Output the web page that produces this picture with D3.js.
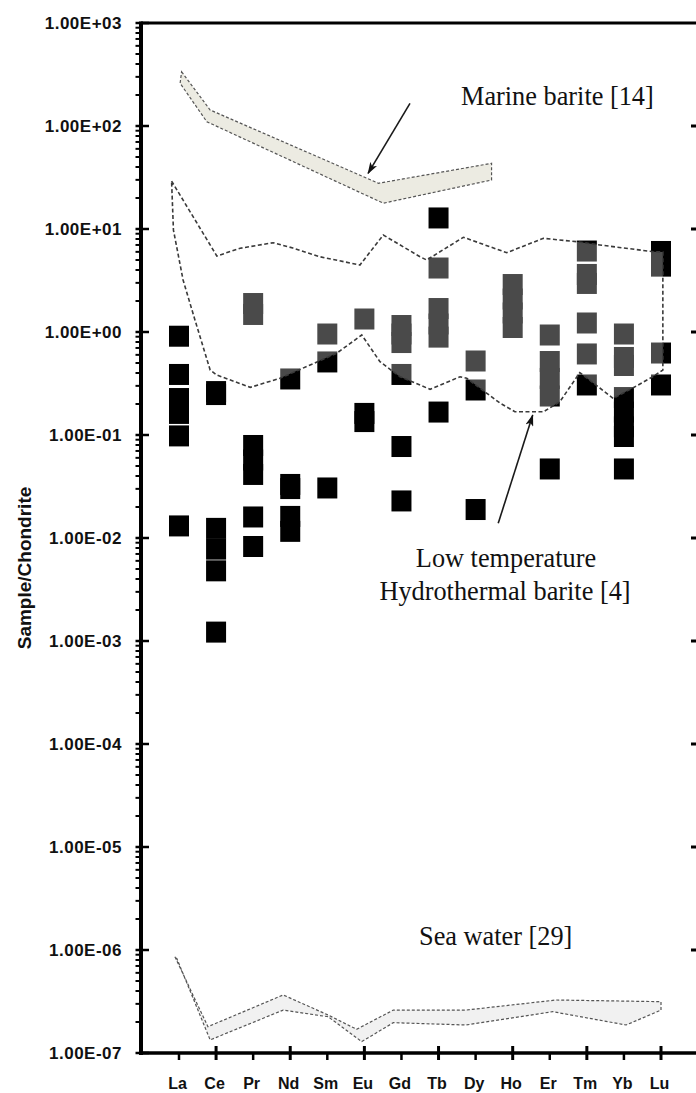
<!DOCTYPE html>
<html>
<head>
<meta charset="utf-8">
<script src="https://cdn.jsdelivr.net/npm/d3@7/dist/d3.min.js"></script>
<style>
  body { margin: 0; background: #fff; }
</style>
</head>
<body>
<div id="chart"></div>
<script>
// REE elements on the x axis
const elements = ["La", "Ce", "Pr", "Nd", "Sm", "Eu", "Gd", "Tb", "Dy", "Ho", "Er", "Tm", "Yb", "Lu"];

// sample/chondrite values, one list per element
const sampleValues = [
    [0.91, 0.387, 0.226, 0.162, 0.098, 0.0131],
    [0.264, 0.247, 0.0124, 0.0078, 0.0048, 0.00122],
    [1.89, 1.48, 0.0791, 0.0572, 0.0414, 0.016, 0.00827],
    [0.35, 0.0331, 0.0302, 0.0162, 0.0116],
    [0.956, 0.512, 0.0306],
    [1.337, 0.162, 0.135],
    [1.156, 0.956, 0.79, 0.387, 0.0773, 0.0229],
    [12.8, 4.18, 1.69, 1.196, 0.892, 0.167],
    [0.523, 0.2735, 0.0189],
    [2.89, 2.09, 1.53, 1.106],
    [0.935, 0.517, 0.354, 0.239, 0.0468],
    [6.11, 3.62, 2.96, 1.223, 0.612, 0.306],
    [0.956, 0.566, 0.473, 0.231, 0.167, 0.12, 0.0967, 0.0468],
    [6.05, 4.36, 0.625, 0.306]
];

// fields: [element position, value]
const hydroTop = [[-0.2, 29.2], [1.02, 5.47], [1.65, 6.5], [2.54, 7.36], [3.07, 6.54], [3.8, 5.38], [4.88, 4.47],
    [5.51, 8.74], [6.5, 5.38], [6.68, 5.0], [7.67, 8.31], [8.84, 5.89], [9.83, 8.12], [10.73, 7.53], [11.35, 7.0],
    [12.79, 6.02], [13.05, 5.98]];
const hydroBottom = [[13.05, 0.428], [12.78, 0.368], [12.24, 0.286], [11.71, 0.227], [11.35, 0.286], [10.81, 0.403],
    [10.27, 0.21], [9.83, 0.168], [9.06, 0.168], [8.66, 0.204], [7.76, 0.355], [7.58, 0.368], [6.77, 0.278],
    [5.96, 0.368], [5.42, 0.515], [4.93, 0.935], [4.25, 0.621], [2.72, 0.355], [1.92, 0.29], [1.02, 0.382],
    [0.84, 0.428], [0.43, 1.31], [0.11, 3.2], [-0.15, 9.77]];

const marineTop = [[0.07, 336], [0.84, 143], [5.38, 27.8], [8.43, 43.4]];
const marineBottom = [[8.43, 29.9], [5.51, 17.8], [0.75, 110], [0.03, 260]];

const seaTop = [[-0.11, 8.6e-7], [0.78, 1.8e-7], [2.81, 3.66e-7], [4.02, 2.34e-7], [4.79, 1.7e-7], [5.78, 2.61e-7],
    [7.74, 2.61e-7], [10.17, 3.27e-7], [13.0, 3.15e-7]];
const seaBottom = [[13.0, 2.61e-7], [12.06, 1.87e-7], [10.08, 2.52e-7], [7.74, 1.87e-7], [5.78, 1.97e-7],
    [4.93, 1.29e-7], [4.02, 2.25e-7], [2.81, 2.61e-7], [0.84, 1.34e-7], [-0.06, 8.3e-7]];

// arrows: from -> to
const arrows = [
    [[6.23, 166], [5.1, 34.7]],
    [[8.61, 0.0139], [9.54, 0.156]]
];

const decades = [1e3, 1e2, 1e1, 1, 1e-1, 1e-2, 1e-3, 1e-4, 1e-5, 1e-6, 1e-7];

const width = 696;
const height = 1093;

const svg = d3.select("#chart").append("svg")
    .attr("width", width)
    .attr("height", height);

const x = d3.scaleLinear().domain([0, 13]).range([179, 661]);
const y = d3.scaleLog().domain([1e-7, 1e3]).range([1053, 23]);

const line = d3.line().x(d => x(d[0])).y(d => y(d[1]));
const closed = pts => line(pts) + "Z";

// marine barite and sea water bands
svg.append("path")
    .attr("d", closed(marineTop.concat(marineBottom)))
    .attr("fill", "#ecebe2")
    .attr("stroke", "#555")
    .attr("stroke-width", 1.2)
    .attr("stroke-dasharray", "3,2");

svg.append("path")
    .attr("d", closed(seaTop.concat(seaBottom)))
    .attr("fill", "#f1f1f1")
    .attr("stroke", "#555")
    .attr("stroke-width", 1.2)
    .attr("stroke-dasharray", "3,2");

// sample markers
const points = [];
sampleValues.forEach((vals, i) => vals.forEach(v => points.push({i: i, v: v})));

svg.append("g")
    .selectAll("rect")
    .data(points)
    .join("rect")
    .attr("x", d => x(d.i) - 10)
    .attr("y", d => y(d.v) - 10.5)
    .attr("width", 20)
    .attr("height", 21)
    .attr("fill", "#000");

// hydrothermal field drawn on top, lightens what is inside
svg.append("path")
    .attr("d", closed(hydroTop.concat(hydroBottom)))
    .attr("fill", "#fff")
    .attr("fill-opacity", 0.29)
    .attr("stroke", "#3a3a3a")
    .attr("stroke-width", 1.6)
    .attr("stroke-dasharray", "4,2.5");

// arrows
svg.append("defs").append("marker")
    .attr("id", "head")
    .attr("viewBox", "0 0 12 8")
    .attr("refX", 11)
    .attr("refY", 4)
    .attr("markerWidth", 12)
    .attr("markerHeight", 8)
    .attr("markerUnits", "userSpaceOnUse")
    .attr("orient", "auto")
    .append("path")
    .attr("d", "M0,0 L12,4 L0,8 L3,4 Z")
    .attr("fill", "#111");

svg.append("g")
    .selectAll("line")
    .data(arrows)
    .join("line")
    .attr("x1", d => x(d[0][0])).attr("y1", d => y(d[0][1]))
    .attr("x2", d => x(d[1][0])).attr("y2", d => y(d[1][1]))
    .attr("stroke", "#1a1a1a")
    .attr("stroke-width", 1.6)
    .attr("marker-end", "url(#head)");

// frame: top line and axes
const x0 = 141;
svg.append("line")
    .attr("x1", x0).attr("x2", width).attr("y1", y(1e3)).attr("y2", y(1e3))
    .attr("stroke", "#000").attr("stroke-width", 3);

svg.append("line")
    .attr("x1", x0).attr("x2", width).attr("y1", y(1e-7)).attr("y2", y(1e-7))
    .attr("stroke", "#000").attr("stroke-width", 3.5);

svg.append("line")
    .attr("x1", x0).attr("x2", x0).attr("y1", y(1e3) - 1.5).attr("y2", y(1e-7) + 2)
    .attr("stroke", "#000").attr("stroke-width", 4);

// y ticks
const minor = [];
decades.slice(1).forEach(d => { for (let k = 2; k <= 9; k++) minor.push(d * k); });

svg.append("g")
    .selectAll("line")
    .data(minor)
    .join("line")
    .attr("x1", 135.5).attr("x2", x0)
    .attr("y1", d => y(d)).attr("y2", d => y(d))
    .attr("stroke", "#000").attr("stroke-width", 2);

svg.append("g")
    .selectAll("line")
    .data(decades)
    .join("line")
    .attr("x1", 135.5).attr("x2", 149)
    .attr("y1", d => y(d)).attr("y2", d => y(d))
    .attr("stroke", "#000").attr("stroke-width", 2.5);

// right side ticks
svg.append("g")
    .selectAll("line")
    .data(decades.slice(1, -1))
    .join("line")
    .attr("x1", 691).attr("x2", width)
    .attr("y1", d => y(d)).attr("y2", d => y(d))
    .attr("stroke", "#000").attr("stroke-width", 3);

const fmt = v => {
    const e = Math.round(Math.log10(v));
    return "1.00E" + (e < 0 ? "-" : "+") + String(Math.abs(e)).padStart(2, "0");
};

svg.append("g")
    .selectAll("text")
    .data(decades)
    .join("text")
    .attr("x", 122)
    .attr("y", d => y(d))
    .attr("dy", "0.36em")
    .attr("text-anchor", "end")
    .attr("font-family", "Liberation Sans, Arial, sans-serif")
    .attr("font-weight", "bold")
    .attr("font-size", 17)
    .attr("letter-spacing", 0.5)
    .attr("fill", "#111")
    .text(fmt);

// x ticks: long ones on every other element starting at Ce
svg.append("g")
    .selectAll("line")
    .data(d3.range(elements.length))
    .join("line")
    .attr("x1", d => x(d)).attr("x2", d => x(d))
    .attr("y1", d => d % 2 ? y(1e-7) - 7 : y(1e-7))
    .attr("y2", y(1e-7) + 7)
    .attr("stroke", "#000")
    .attr("stroke-width", d => d % 2 ? 3 : 2.5);

svg.append("g")
    .selectAll("text")
    .data(elements)
    .join("text")
    .attr("x", (d, i) => x(i) - 1.5)
    .attr("y", 1089)
    .attr("text-anchor", "middle")
    .attr("font-family", "Liberation Sans, Arial, sans-serif")
    .attr("font-weight", "bold")
    .attr("font-size", 16)
    .attr("fill", "#111")
    .text(d => d);

// axis title
svg.append("text")
    .attr("transform", "translate(31,568) rotate(-90)")
    .attr("text-anchor", "middle")
    .attr("font-family", "Liberation Sans, Arial, sans-serif")
    .attr("font-weight", "bold")
    .attr("font-size", 19)
    .attr("fill", "#111")
    .text("Sample/Chondrite");

// annotations
const serif = "Liberation Serif, Times New Roman, serif";
const notes = [
    {t: "Marine barite [14]", x: 461, y: 105, a: "start"},
    {t: "Low temperature", x: 506, y: 567, a: "middle"},
    {t: "Hydrothermal barite [4]", x: 505, y: 600, a: "middle"},
    {t: "Sea water [29]", x: 419, y: 945, a: "start"}
];

svg.append("g")
    .selectAll("text")
    .data(notes)
    .join("text")
    .attr("x", d => d.x)
    .attr("y", d => d.y)
    .attr("text-anchor", d => d.a)
    .attr("font-family", serif)
    .attr("font-size", 26.3)
    .attr("fill", "#111")
    .text(d => d.t);
</script>
</body>
</html>
